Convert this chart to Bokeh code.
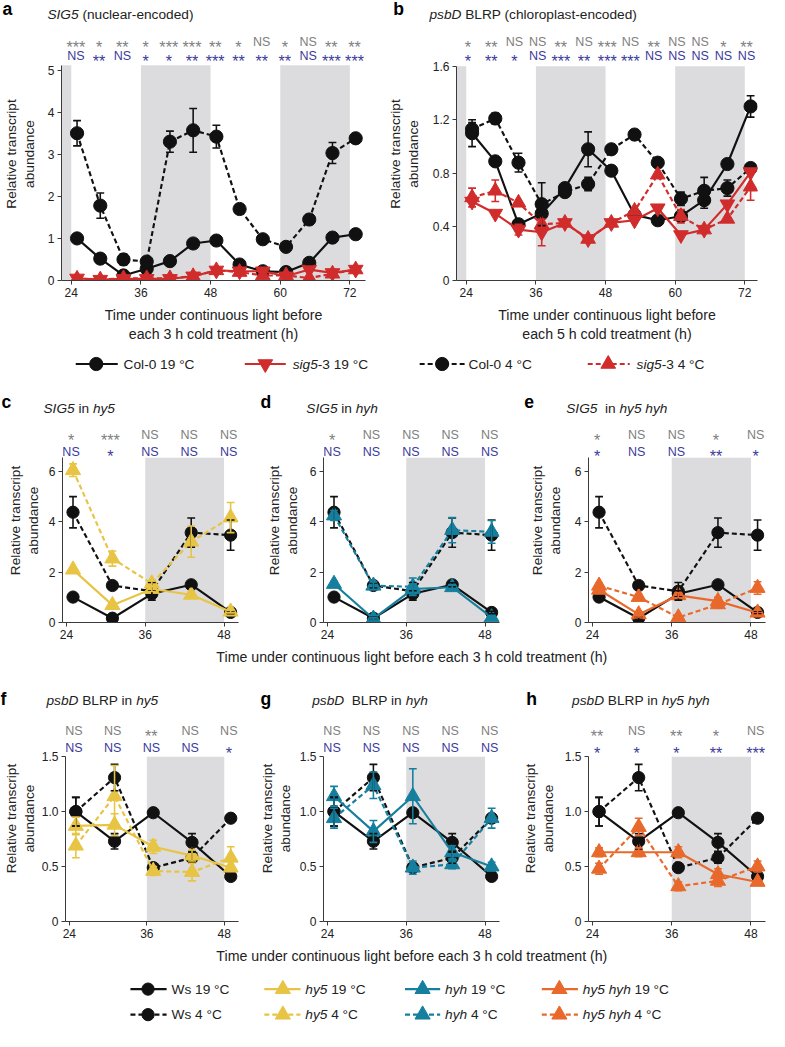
import math
from bokeh.plotting import figure
from bokeh.models import (Range1d, Label, BoxAnnotation, Whisker, TeeHead,
                          ColumnDataSource, FixedTicker, CustomJSTickFormatter)
from bokeh.layouts import column, row
from bokeh.embed import file_html
from bokeh.resources import INLINE

# ------------------------------------------------------------------ data
times_ab = [25, 29, 33, 37, 41, 45, 49, 53, 57, 61, 65, 69, 73]
times_small = [25, 31, 37, 43, 49]
dark_ab = [(22, 24), (36, 48), (60, 72)]
dark_small = [(36, 48)]

x_ticks_ab = [24, 36, 48, 60, 72]
x_ticks_small = [24, 36, 48]
y_ticks_a = [0, 1, 2, 3, 4, 5]
y_ticks_b = [0, 0.4, 0.8, 1.2, 1.6]
y_ticks_sig5 = [0, 2, 4, 6]
y_ticks_psbd = [0, 0.5, 1.0, 1.5]

# panel a: SIG5
a_col0_19 = [1.0, 0.52, 0.12, 0.28, 0.46, 0.88, 0.95, 0.38, 0.22, 0.2, 0.42, 1.02, 1.1]
a_col0_19_err = [0.03, 0.03, 0.02, 0.03, 0.03, 0.05, 0.05, 0.03, 0.02, 0.02, 0.04, 0.05, 0.04]
a_col0_4 = [3.5, 1.78, 0.5, 0.45, 3.3, 3.57, 3.42, 1.7, 0.98, 0.8, 1.45, 3.03, 3.38]
a_col0_4_err = [0.3, 0.3, 0.13, 0.04, 0.25, 0.52, 0.27, 0.05, 0.05, 0.04, 0.12, 0.25, 0.05]
a_sig5_19 = [0.05, 0.02, 0.04, 0.04, 0.04, 0.1, 0.24, 0.22, 0.22, 0.1, 0.26, 0.18, 0.26]
a_sig5_19_err = [0.01, 0.01, 0.01, 0.01, 0.01, 0.02, 0.03, 0.03, 0.08, 0.02, 0.04, 0.03, 0.03]
a_sig5_4 = [0.04, 0.02, 0.05, 0.05, 0.05, 0.1, 0.24, 0.2, 0.12, 0.12, 0.06, 0.16, 0.26]
a_sig5_4_err = [0.01, 0.01, 0.01, 0.01, 0.01, 0.02, 0.03, 0.03, 0.03, 0.02, 0.02, 0.03, 0.03]

# panel b: psbD BLRP
b_col0_19 = [1.1, 0.89, 0.42, 0.5, 0.69, 0.98, 0.82, 0.49, 0.45, 0.48, 0.6, 0.87, 1.3]
b_col0_19_err = [0.1, 0.03, 0.03, 0.03, 0.03, 0.13, 0.02, 0.02, 0.02, 0.03, 0.06, 0.02, 0.08]
b_col0_4 = [1.13, 1.21, 0.88, 0.57, 0.66, 0.72, 0.98, 1.09, 0.88, 0.61, 0.67, 0.69, 0.84]
b_col0_4_err = [0.05, 0.04, 0.07, 0.16, 0.02, 0.05, 0.02, 0.02, 0.02, 0.05, 0.1, 0.06, 0.02]
b_sig5_19 = [0.59, 0.5, 0.38, 0.36, 0.43, 0.31, 0.43, 0.45, 0.54, 0.34, 0.38, 0.57, 0.81]
b_sig5_19_err = [0.03, 0.02, 0.04, 0.1, 0.02, 0.02, 0.02, 0.03, 0.02, 0.03, 0.02, 0.03, 0.03]
b_sig5_4 = [0.62, 0.67, 0.58, 0.42, 0.43, 0.31, 0.43, 0.52, 0.79, 0.48, 0.38, 0.46, 0.7]
b_sig5_4_err = [0.07, 0.08, 0.02, 0.03, 0.02, 0.02, 0.02, 0.02, 0.02, 0.05, 0.02, 0.03, 0.1]

sig_a_gray = ["***", "*", "**", "*", "***", "***", "**", "*", "NS", "*", "NS", "**", "**"]
sig_a_blue = ["NS", "**", "NS", "*", "*", "**", "***", "**", "**", "**", "NS", "***", "***"]
sig_b_gray = ["*", "**", "NS", "NS", "**", "NS", "***", "NS", "**", "NS", "NS", "*", "**"]
sig_b_blue = ["*", "**", "*", "NS", "***", "**", "***", "***", "NS", "NS", "NS", "NS", "NS"]

# panels c-e: SIG5 in mutants (Ws wild type shared)
sig5_ws_19 = [1.01, 0.17, 1.14, 1.5, 0.4]
sig5_ws_19_err = [0.05, 0.05, 0.12, 0.08, 0.05]
sig5_ws_4 = [4.38, 1.47, 1.24, 3.57, 3.47]
sig5_ws_4_err = [0.62, 0.1, 0.35, 0.58, 0.6]
sig5_hy5_19 = [2.1, 0.69, 1.33, 1.1, 0.43]
sig5_hy5_19_err = [0.05, 0.05, 0.1, 0.1, 0.05]
sig5_hy5_4 = [6.05, 2.54, 1.55, 3.21, 4.17]
sig5_hy5_4_err = [0.25, 0.3, 0.1, 0.62, 0.6]
sig5_hyh_19 = [1.53, 0.15, 1.33, 1.4, 0.2]
sig5_hyh_19_err = [0.1, 0.05, 0.2, 0.1, 0.05]
sig5_hyh_4 = [4.25, 1.46, 1.42, 3.67, 3.6]
sig5_hyh_4_err = [0.2, 0.15, 0.35, 0.5, 0.45]
sig5_hy5hyh_19 = [1.3, 0.32, 1.08, 0.85, 0.39]
sig5_hy5hyh_19_err = [0.15, 0.1, 0.1, 0.15, 0.1]
sig5_hy5hyh_4 = [1.46, 1.01, 0.2, 0.72, 1.37]
sig5_hy5hyh_4_err = [0.1, 0.1, 0.05, 0.15, 0.25]

sig_c_gray = ["*", "***", "NS", "NS", "NS"]
sig_c_blue = ["NS", "*", "NS", "NS", "NS"]
sig_d_gray = ["*", "NS", "NS", "NS", "NS"]
sig_d_blue = ["NS", "NS", "NS", "NS", "NS"]
sig_e_gray = ["*", "NS", "NS", "*", "NS"]
sig_e_blue = ["*", "NS", "NS", "**", "*"]

# panels f-h: psbD BLRP in mutants
psbd_ws_19 = [1.0, 0.73, 0.99, 0.72, 0.41]
psbd_ws_19_err = [0.13, 0.07, 0.02, 0.08, 0.02]
psbd_ws_4 = [1.0, 1.31, 0.49, 0.58, 0.94]
psbd_ws_4_err = [0.13, 0.12, 0.03, 0.05, 0.02]
psbd_hy5_19 = [0.87, 0.88, 0.68, 0.6, 0.49]
psbd_hy5_19_err = [0.08, 0.1, 0.06, 0.05, 0.03]
psbd_hy5_4 = [0.69, 1.14, 0.46, 0.45, 0.58]
psbd_hy5_4_err = [0.11, 0.28, 0.04, 0.08, 0.1]
psbd_hyh_19 = [1.14, 0.82, 1.14, 0.63, 0.5]
psbd_hyh_19_err = [0.09, 0.1, 0.25, 0.06, 0.04]
psbd_hyh_4 = [0.94, 1.24, 0.49, 0.52, 0.94]
psbd_hyh_4_err = [0.09, 0.12, 0.06, 0.04, 0.09]
psbd_hy5hyh_19 = [0.63, 0.63, 0.63, 0.43, 0.36]
psbd_hy5hyh_19_err = [0.04, 0.04, 0.05, 0.05, 0.02]
psbd_hy5hyh_4 = [0.48, 0.86, 0.32, 0.37, 0.5]
psbd_hy5hyh_4_err = [0.05, 0.08, 0.04, 0.05, 0.05]

sig_f_gray = ["NS", "NS", "**", "NS", "NS"]
sig_f_blue = ["NS", "NS", "NS", "NS", "*"]
sig_g_gray = ["NS", "NS", "NS", "NS", "NS"]
sig_g_blue = ["NS", "NS", "NS", "NS", "NS"]
sig_h_gray = ["**", "NS", "**", "*", "NS"]
sig_h_blue = ["*", "*", "*", "**", "***"]

# ------------------------------------------------------------------ style
S = 0.978
FONT = "Liberation Sans"
TXT = "#222222"
AXC = "#3a3a3a"
BAND = "#dcdcde"
GRAYSIG = "#808080"
BLUESIG = "#3b3b9c"
BLACK = "#111111"
RED = "#d12c2c"
YELLOW = "#e8c444"
TEAL = "#157f9d"
ORANGE = "#e8692b"
DASH = "5 3"
LW = 2.2
YLAB = "Relative transcript\nabundance"
NS_SIZE = 12.8
AST_SIZE = 16.5

AW = {' ': 278, '!': 278, '(': 333, ')': 333, '-': 333, '.': 278, '°': 400,
      'A': 667, 'B': 667, 'C': 722, 'D': 722, 'E': 667, 'G': 778, 'H': 722,
      'I': 278, 'L': 556, 'N': 722, 'O': 778, 'P': 667, 'R': 722, 'S': 667,
      'T': 611, 'W': 944, 'a': 556, 'b': 556, 'c': 500, 'd': 556, 'e': 556,
      'f': 278, 'g': 556, 'h': 556, 'i': 222, 'j': 222, 'k': 500, 'l': 222,
      'm': 833, 'n': 556, 'o': 556, 'p': 556, 'q': 556, 'r': 333, 's': 500,
      't': 278, 'u': 556, 'v': 500, 'w': 722, 'x': 500, 'y': 500, 'z': 500}


def tw(s, size):
    return sum(AW.get(ch, 556) for ch in s) * size / 1000.0


def px(v):
    return int(round(v * S))


def add_label(p, x, y, text, size, color=TXT, style="normal", align="left",
              baseline="middle", xu="data", yu="data", angle=0.0):
    p.add_layout(Label(
        x=x * S if xu == "screen" else x,
        y=y * S if yu == "screen" else y,
        x_units=xu, y_units=yu, text=text, angle=angle,
        text_font=FONT, text_font_size=f"{size * S:.2f}px", text_font_style=style,
        text_color=color, text_align=align, text_baseline=baseline))


def add_rich(p, x, y, segs, size, color=TXT):
    # x, y in the strip's data units (reference pixels)
    cx = x
    for t, st in segs:
        stripped = t.lstrip(" ")
        lead = tw(t[:len(t) - len(stripped)], size)
        body = stripped.rstrip(" ")
        if body:
            add_label(p, cx + lead, y, body, size, color, st, "left", "middle")
        cx += tw(t, size)


def make_panel(width_px, fh, left, right, bottom, xr, ytop_axis, axis_h, xt, yt,
               ylab_standoff, fmt=None, xlab=None):
    frame_h = fh - bottom
    ytop = ytop_axis * frame_h / axis_h
    p = figure(width=width_px, height=px(fh),
               x_range=Range1d(*xr), y_range=Range1d(0, ytop),
               output_backend="svg", toolbar_location=None, title_location=None,
               min_border_left=px(left), min_border_right=px(right),
               min_border_top=0, min_border_bottom=px(bottom))
    p.outline_line_color = None
    p.grid.visible = False
    p.xaxis.ticker = FixedTicker(ticks=xt)
    p.yaxis.ticker = FixedTicker(ticks=yt)
    p.yaxis.bounds = (0, ytop_axis)
    if fmt:
        p.yaxis.formatter = CustomJSTickFormatter(code=fmt)
    p.axis.axis_line_color = AXC
    p.axis.axis_line_width = 1
    p.axis.major_tick_line_color = AXC
    p.axis.major_tick_out = px(4)
    p.axis.major_tick_in = 0
    p.axis.minor_tick_line_color = None
    p.axis.major_label_text_font = FONT
    p.axis.major_label_text_font_size = f"{12.3 * S:.2f}px"
    p.axis.major_label_text_color = TXT
    p.axis.major_label_standoff = 3
    p.yaxis.axis_label = YLAB
    p.yaxis.axis_label_standoff = px(ylab_standoff)
    p.axis.axis_label_text_font = FONT
    p.axis.axis_label_text_font_size = f"{14 * S:.2f}px"
    p.axis.axis_label_text_font_style = "normal"
    p.axis.axis_label_text_color = TXT
    if xlab:
        p.xaxis.axis_label = xlab
        p.xaxis.axis_label_standoff = px(7)
        p.xaxis.axis_label_text_font_size = f"{14.5 * S:.2f}px"
    return p, ytop_axis


def add_bands(p, periods, top):
    x0 = p.x_range.start
    for l, r in periods:
        p.add_layout(BoxAnnotation(left=max(l, x0), right=r, bottom=0, top=top,
                                   fill_color=BAND, fill_alpha=1.0,
                                   line_color=None, level="underlay"))


def add_series(p, x, y, err, color, dash, marker, msize):
    p.line(x, y, line_color=color, line_width=LW * S, line_dash=dash)
    xs, lo, hi = [], [], []
    for xi, yi, ei in zip(x, y, err):
        if ei > 0.035:
            xs.append(xi)
            lo.append(yi - ei)
            hi.append(yi + ei)
    if xs:
        src = ColumnDataSource(dict(x=xs, lo=lo, hi=hi))
        p.add_layout(Whisker(source=src, base="x", upper="hi", lower="lo",
                             line_color=color, line_width=1.6 * S, level="glyph",
                             upper_head=TeeHead(size=8 * S, line_color=color, line_width=1.6 * S),
                             lower_head=TeeHead(size=8 * S, line_color=color, line_width=1.6 * S)))
    p.scatter(x, y, marker=marker, size=msize * S, fill_color=color, line_color=color,
              line_width=1)


def add_sig(p, t, y, txt, color):
    # y is the visual centre of the row (reference px above the frame bottom)
    if not txt:
        return
    if txt == "NS":
        add_label(p, t, y - 0.358 * NS_SIZE, txt, NS_SIZE, color, align="center",
                  baseline="alphabetic", xu="data", yu="screen")
    else:
        add_label(p, t, y - 0.56 * AST_SIZE, txt, AST_SIZE, color, align="center",
                  baseline="alphabetic", xu="data", yu="screen")


def add_stars(p, times, gray, blue, yg, yb, shift=0.0):
    for t, g, b in zip(times, gray, blue):
        add_sig(p, t + shift, yg, g, GRAYSIG)
        add_sig(p, t + shift, yb, b, BLUESIG)


FMT1 = "return tick == 0 ? '0' : tick.toFixed(1);"
IT, NO = "italic", "normal"

W1 = px(390)
W2 = px(395)
WT = W1 + W2
WS = px(262)
WE = WT - 2 * WS


def strip(h_ref):
    p = figure(width=WT, height=px(h_ref), x_range=Range1d(0, 785), y_range=Range1d(h_ref, 0),
               output_backend="svg", toolbar_location=None, title_location=None,
               x_axis_location=None, y_axis_location=None, min_border=0)
    p.grid.visible = False
    p.outline_line_color = None
    return p


def header(h_ref, items):
    p = strip(h_ref)
    for letter, lx, ly, segs, tx, ty in items:
        add_label(p, lx, ly, letter, 18, "#000000", "bold")
        add_rich(p, tx, ty, segs, 14)
    return p


def legend_key(p, x0, x1, xm, y, color, dash, marker, msize):
    p.line([x0, x1], [y, y], line_color=color, line_width=LW * S, line_dash=dash)
    p.scatter([xm], [y], marker=marker, size=msize * S, fill_color=color, line_color=color)


# ------------------------------------------------------------------ row 1 header
h1 = header(28, [("a", 2, 9, [("SIG5", IT), (" (nuclear-encoded)", NO)], 48, 15),
                 ("b", 402, 9, [("psbD", IT), (" BLRP (chloroplast-encoded)", NO)], 439, 15)])

# ------------------------------------------------------------------ panel a
pa, ta = make_panel(W1, 324, 62, 16, 63, (22.32, 74.69), 5.115, 222, x_ticks_ab, y_ticks_a, 8,
                    xlab="Time under continuous light before\neach 3 h cold treatment (h)")
add_bands(pa, dark_ab, ta)
add_series(pa, times_ab, a_col0_19, a_col0_19_err, BLACK, "solid", "circle", 13.5)
add_series(pa, times_ab, a_col0_4, a_col0_4_err, BLACK, DASH, "circle", 13.5)
add_series(pa, times_ab, a_sig5_19, a_sig5_19_err, RED, "solid", "inverted_triangle", 15)
add_series(pa, times_ab, a_sig5_4, a_sig5_4_err, RED, DASH, "triangle", 15)
add_stars(pa, times_ab, sig_a_gray, sig_a_blue, 248, 234, -0.2)

# ------------------------------------------------------------------ panel b
pb, tb = make_panel(W2, 324, 77, 10, 63, (22.316, 74.19), 1.6, 221, x_ticks_ab, y_ticks_b, 9,
                    fmt=FMT1,
                    xlab="Time under continuous light before\neach 5 h cold treatment (h)")
add_bands(pb, dark_ab, tb)
add_series(pb, times_ab, b_col0_19, b_col0_19_err, BLACK, "solid", "circle", 13.5)
add_series(pb, times_ab, b_col0_4, b_col0_4_err, BLACK, DASH, "circle", 13.5)
add_series(pb, times_ab, b_sig5_19, b_sig5_19_err, RED, "solid", "inverted_triangle", 15)
add_series(pb, times_ab, b_sig5_4, b_sig5_4_err, RED, DASH, "triangle", 15)
add_stars(pb, times_ab, sig_b_gray, sig_b_blue, 248, 234, -0.7)

# ------------------------------------------------------------------ legend 1
leg1 = strip(40)
legend_key(leg1, 77, 120, 98, 20, BLACK, "solid", "circle", 13.5)
add_rich(leg1, 126, 20, [("Col-0 19 °C", NO)], 14)
legend_key(leg1, 250, 292, 271, 20, RED, "solid", "inverted_triangle", 15)
add_rich(leg1, 299, 20, [("sig5", IT), ("-3 19 °C", NO)], 14)
legend_key(leg1, 429, 475, 452, 20, BLACK, DASH, "circle", 13.5)
add_rich(leg1, 479, 20, [("Col-0 4 °C", NO)], 14)
legend_key(leg1, 601, 644, 622, 20, RED, DASH, "triangle", 15)
add_rich(leg1, 651, 20, [("sig5", IT), ("-3 4 °C", NO)], 14)

# ------------------------------------------------------------------ row 2: c, d, e
h2 = header(36, [("c", 1, 19, [("SIG5", IT), (" in ", NO), ("hy5", IT)], 44, 26),
                 ("d", 266, 19, [("SIG5", IT), (" in ", NO), ("hyh", IT)], 313, 26),
                 ("e", 536, 19, [("SIG5", IT), ("  in ", NO), ("hy5 hyh", IT)], 579, 26)])
XR = (23.4, 50.2)
pc, tc = make_panel(WS, 234, 63, 18, 26, XR, 6.545, 168, x_ticks_small, y_ticks_sig5, 5)
pd, td = make_panel(WS, 234, 68, 13, 26, XR, 6.545, 168, x_ticks_small, y_ticks_sig5, 7)
pe, te = make_panel(WE, 234, 78, 2, 26, XR, 6.545, 168, x_ticks_small, y_ticks_sig5, 9)
for p_, top_, mut19, mut19e, mut4, mut4e, col, sg, sb in [
        (pc, tc, sig5_hy5_19, sig5_hy5_19_err, sig5_hy5_4, sig5_hy5_4_err, YELLOW,
         sig_c_gray, sig_c_blue),
        (pd, td, sig5_hyh_19, sig5_hyh_19_err, sig5_hyh_4, sig5_hyh_4_err, TEAL,
         sig_d_gray, sig_d_blue),
        (pe, te, sig5_hy5hyh_19, sig5_hy5hyh_19_err, sig5_hy5hyh_4, sig5_hy5hyh_4_err, ORANGE,
         sig_e_gray, sig_e_blue)]:
    add_bands(p_, dark_small, top_)
    add_series(p_, times_small, sig5_ws_19, sig5_ws_19_err, BLACK, "solid", "circle", 12.5)
    add_series(p_, times_small, sig5_ws_4, sig5_ws_4_err, BLACK, DASH, "circle", 12.5)
    add_series(p_, times_small, mut19, mut19e, col, "solid", "triangle", 15.5)
    add_series(p_, times_small, mut4, mut4e, col, DASH, "triangle", 15.5)
    add_stars(p_, times_small, sg, sb, 196, 179, -0.3)

t2 = strip(23)
add_label(t2, 421, 10, "Time under continuous light before each 3 h cold treatment (h)", 14.5,
          align="center")

# ------------------------------------------------------------------ row 3: f, g, h
h3 = header(47, [("f", 0, 30, [("psbD", IT), (" BLRP in ", NO), ("hy5", IT)], 47, 32),
                 ("g", 266, 30, [("psbD", IT), ("  BLRP in ", NO), ("hyh", IT)], 319, 32),
                 ("h", 538, 30, [("psbD", IT), (" BLRP in ", NO), ("hy5 hyh", IT)], 585, 32)])
pf, tf = make_panel(WS, 235, 63, 18, 25, XR, 1.5, 168, x_ticks_small, y_ticks_psbd, 2, fmt=FMT1)
pg, tg = make_panel(WS, 235, 68, 13, 25, XR, 1.5, 168, x_ticks_small, y_ticks_psbd, 4, fmt=FMT1)
ph, th = make_panel(WE, 235, 78, 2, 25, XR, 1.5, 168, x_ticks_small, y_ticks_psbd, 6, fmt=FMT1)
for p_, top_, mut19, mut19e, mut4, mut4e, col, sg, sb in [
        (pf, tf, psbd_hy5_19, psbd_hy5_19_err, psbd_hy5_4, psbd_hy5_4_err, YELLOW,
         sig_f_gray, sig_f_blue),
        (pg, tg, psbd_hyh_19, psbd_hyh_19_err, psbd_hyh_4, psbd_hyh_4_err, TEAL,
         sig_g_gray, sig_g_blue),
        (ph, th, psbd_hy5hyh_19, psbd_hy5hyh_19_err, psbd_hy5hyh_4, psbd_hy5hyh_4_err, ORANGE,
         sig_h_gray, sig_h_blue)]:
    add_bands(p_, dark_small, top_)
    add_series(p_, times_small, psbd_ws_19, psbd_ws_19_err, BLACK, "solid", "circle", 12.5)
    add_series(p_, times_small, psbd_ws_4, psbd_ws_4_err, BLACK, DASH, "circle", 12.5)
    add_series(p_, times_small, mut19, mut19e, col, "solid", "triangle", 15.5)
    add_series(p_, times_small, mut4, mut4e, col, DASH, "triangle", 15.5)
    add_stars(p_, times_small, sg, sb, 199, 182, -0.3)

t3 = strip(23)
add_label(t3, 421, 11, "Time under continuous light before each 3 h cold treatment (h)", 14.5,
          align="center")

# ------------------------------------------------------------------ bottom legend
leg3 = strip(57)
cols = [(133, 170, 151, 175, BLACK, "circle", 12.5, None),
        (270, 307, 289, 312, YELLOW, "triangle", 15.5, "hy5"),
        (414, 450, 432, 455, TEAL, "triangle", 15.5, "hyh"),
        (554, 591, 572, 596, ORANGE, "triangle", 15.5, "hy5 hyh")]
for x0, x1, xm, xt_, colr, mk, ms, name in cols:
    for yy, dash, temp in [(22, "solid", " 19 °C"), (48, DASH, " 4 °C")]:
        legend_key(leg3, x0, x1, xm, yy, colr, dash, mk, ms)
        if name is None:
            segs = [("Ws" + temp, NO)]
        else:
            segs = [(name, IT), (temp, NO)]
        add_rich(leg3, xt_, yy, segs, 14)

layout = column(h1, row(pa, pb), leg1, h2, row(pc, pd, pe), t2, h3, row(pf, pg, ph), t3, leg3)

open("out.html", "w").write(file_html(layout, INLINE))
